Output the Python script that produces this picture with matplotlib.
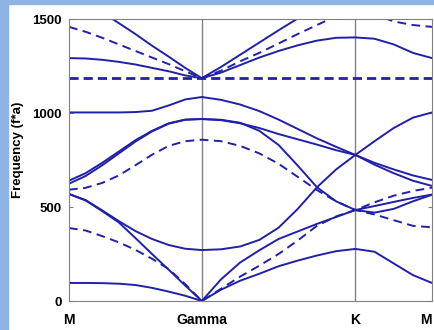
import numpy as np
import matplotlib
matplotlib.use("Agg")
import matplotlib.pyplot as plt
from matplotlib.patches import Rectangle

# high symmetry points along the path
sym_labels = ["M", "Gamma", "K", "M"]
sym_k = [0.0, 0.577, 1.244, 1.577]

# frequencies: 9 samples M-Gamma, 8 Gamma-K, 4 K-M
band_a = [96, 96, 95, 92, 85, 70, 50, 28, 0,
          60, 108, 145, 185, 215, 242, 265, 277,
          262, 200, 138, 96]
band_b = [388, 375, 345, 312, 272, 225, 170, 90, 0,
          65, 130, 188, 250, 322, 400, 450, 484,
          525, 560, 585, 603]
band_c = [592, 602, 628, 668, 722, 778, 825, 850, 858,
          850, 825, 785, 730, 660, 590, 530, 484,
          460, 430, 400, 392]
band_d = [569, 535, 478, 418, 335, 250, 167, 82, 0,
          115, 205, 270, 330, 370, 410, 447, 484,
          470, 490, 530, 565]
band_e = [569, 537, 482, 425, 372, 330, 298, 278, 271,
          275, 290, 325, 390, 490, 605, 700, 777,
          850, 920, 975, 1003]
band_f = [640, 680, 735, 795, 855, 905, 945, 965, 968,
          962, 945, 920, 888, 860, 832, 802, 777,
          735, 700, 668, 644]
band_g = [624, 665, 722, 785, 848, 902, 943, 964, 968,
          964, 948, 905, 830, 720, 605, 530, 484,
          505, 527, 548, 566]
band_h = [1003, 1003, 1003, 1003, 1005, 1012, 1040, 1072, 1085,
          1070, 1045, 1010, 965, 915, 865, 820, 777,
          725, 680, 640, 612]
band_i = [1185, 1185, 1185, 1185, 1185, 1185, 1185, 1185, 1185,
          1185, 1185, 1185, 1185, 1185, 1185, 1185, 1185,
          1185, 1185, 1185, 1185]
band_j = [1292, 1290, 1283, 1272, 1258, 1240, 1222, 1200, 1185,
          1215, 1255, 1295, 1330, 1360, 1385, 1400, 1402,
          1395, 1365, 1320, 1292]
band_k = [1458, 1432, 1400, 1365, 1330, 1295, 1260, 1222, 1185,
          1225, 1275, 1320, 1370, 1420, 1468, 1515, 1550,
          1525, 1487, 1468, 1458]
band_l = [1640, 1590, 1535, 1478, 1420, 1358, 1300, 1240, 1185,
          1245, 1310, 1375, 1440, 1503, 1565, 1625, 1660,
          1660, 1655, 1645, 1640]

solid_bands = [band_a, band_d, band_e, band_f, band_g, band_h, band_j, band_l]
dashed_bands = [band_b, band_c, band_k]
flat_band = band_i

k = np.concatenate([np.linspace(sym_k[0], sym_k[1], 9),
                    np.linspace(sym_k[1], sym_k[2], 9)[1:],
                    np.linspace(sym_k[2], sym_k[3], 5)[1:]])

plt.rcParams["font.family"] = ["Liberation Sans", "DejaVu Sans"]
plt.rcParams["font.weight"] = "bold"

fig = plt.figure(figsize=(4.35, 3.3), dpi=100)
fig.patches.append(Rectangle((0, 0), 8 / 435, 1, transform=fig.transFigure,
                             color="#8db4e2", zorder=0))
fig.patches.append(Rectangle((0, 1 - 4 / 330), 1, 4 / 330, transform=fig.transFigure,
                             color="#8db4e2", zorder=0))

ax = fig.add_axes([69 / 435, 29 / 330, 363 / 435, 282 / 330])
col = "#2020a8"
for b in solid_bands:
    ax.plot(k, b, color=col, lw=1.4, solid_capstyle="round")
for b in dashed_bands:
    ax.plot(k, b, color=col, lw=1.4, dashes=(4.5, 2.8))
ax.plot(k, flat_band, color=col, lw=2.0, dashes=(3.3, 1.8))

for x in sym_k[1:3]:
    ax.axvline(x, color="#808080", lw=1.0, zorder=0)

ax.set_xlim(sym_k[0], sym_k[-1])
ax.set_ylim(0, 1500)
ax.set_xticks(sym_k)
ax.set_xticklabels(sym_labels, fontsize=10, fontweight="bold")
ax.get_xticklabels()[-1].set_horizontalalignment("right")
ax.set_yticks([0, 500, 1000, 1500])
ax.set_yticklabels(["0", "500", "1000", "1500"], fontsize=9.5, fontweight="bold")
ax.tick_params(axis="x", length=0, pad=9)
ax.tick_params(axis="y", direction="in", length=3, pad=5, right=True, color="#808080")
for s in ax.spines.values():
    s.set_color("#808080")
ax.set_ylabel("Frequency (f*a)", fontsize=9.5, fontweight="bold")
ax.yaxis.set_label_coords(-0.125, 0.535)

fig.savefig("out.png", dpi=100)
